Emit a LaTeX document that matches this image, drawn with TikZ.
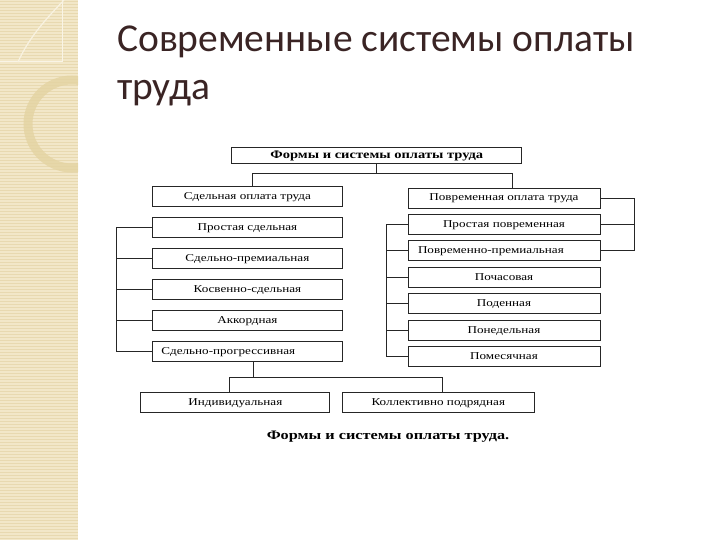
\documentclass[tikz,border=0pt]{standalone}
\usepackage{fontspec}
\setmainfont{Liberation Serif}
\newfontfamily\scanfont[FakeStretch=1.25]{Liberation Serif}
\newfontfamily\titlefont{Carlito}
\usetikzlibrary{positioning,calc}
\definecolor{sdbeige}{HTML}{F2E7C8}
\definecolor{sdstripe}{HTML}{E8D9B0}
\definecolor{sdring}{HTML}{E4D3A2}
\definecolor{ttbrown}{HTML}{3A2424}
\definecolor{lnblack}{HTML}{262626}

\begin{document}
\begin{tikzpicture}[x=1pt,y=-1pt,
 box/.style={draw=lnblack,fill=white,line width=0.9pt,minimum width=190pt,minimum height=20pt,inner sep=0pt,text height=8pt,text depth=2pt,font=\scanfont\fontsize{10.5}{12}\selectfont},
 link/.style={draw=lnblack,line width=0.9pt}]
\useasboundingbox (0,0) rectangle (720,540);
% side strip
\fill[sdbeige] (0,0) rectangle (78,540);
\foreach \y in {1.5,4.5,...,540} \draw[sdstripe,line width=0.8pt] (0,\y) -- (78,\y);
\draw[white!55!sdbeige,line width=1pt] (0,62) -- (62,62) -- (62,0);
\draw[white!45!sdbeige,line width=1.2pt] (18,62) .. controls (30,35) and (50,15) .. (64,0);
\begin{scope}
\clip (0,0) rectangle (78,540);
\draw[sdring,line width=9pt,opacity=0.8] (72,124) circle (44);
\end{scope}
% title
\node[anchor=north west,inner sep=0pt,align=left,text=ttbrown,font=\titlefont\fontsize{39.5}{48}\selectfont] (title) at (117,26) {Современные системы оплаты\\труда};
% boxes
\node[box,minimum width=290pt,minimum height=16pt,font=\scanfont\bfseries\fontsize{11.6}{12}\selectfont] (forms) at (376.8,155.2) {Формы и системы оплаты труда};
\node[box] (sdel) at (247.4,196.5) {Сдельная оплата труда};
\node[box,below=10pt of sdel] (sdel1) {Простая сдельная};
\node[box,below=10pt of sdel1] (sdel2) {Сдельно-премиальная};
\node[box,below=10pt of sdel2] (sdel3) {Косвенно-сдельная};
\node[box,below=10pt of sdel3] (sdel4) {Аккордная};
\node[box,below=10pt of sdel4,text width=172pt,align=left] (sdel5) {Сдельно-прогрессивная};
\node[box,minimum width=192pt] (povr) at (504,198) {Повременная оплата труда};
\node[box,minimum width=192pt,below=5.5pt of povr] (povr1) {Простая повременная};
\node[box,minimum width=192pt,below=5.5pt of povr1,text width=172pt,align=left] (povr2) {Повременно-премиальная};
\node[box,minimum width=192pt,below=5.5pt of povr2] (povr3) {Почасовая};
\node[box,minimum width=192pt,below=5.5pt of povr3] (povr4) {Поденная};
\node[box,minimum width=192pt,below=5.5pt of povr4] (povr5) {Понедельная};
\node[box,minimum width=192pt,below=5.5pt of povr5] (povr6) {Помесячная};
\node[box,minimum width=189pt] (ind) at (235.4,402.8) {Индивидуальная};
\node[box,minimum width=192pt,right=11.5pt of ind] (kol) {Коллективно подрядная};
\node[font=\scanfont\bfseries\fontsize{13}{14}\selectfont] (caption) at (388,437) {Формы и системы оплаты труда.};
% connectors
\draw[link] (forms.south) -- ++(0,9.5) coordinate (fork) -| ([xshift=5.5pt]sdel.north);
\draw[link] (fork) -| ([xshift=8pt]povr.north);
\draw[link] (sdel1.west) -- ++(-35.5,0) |- (sdel5.west);
\foreach \n in {sdel2,sdel3,sdel4} \draw[link] (\n.west) -- ++(-35.5,0);
\draw[link] (povr1.west) -- ++(-20.7,0) |- (povr6.west);
\foreach \n in {povr2,povr3,povr4,povr5} \draw[link] (\n.west) -- ++(-20.7,0);
\draw[link] (povr.east) -- ++(34,0) |- (povr2.east);
\draw[link] (povr1.east) -- ++(34,0);
\draw[link] ([xshift=6pt]sdel5.south) -- ++(0,16) coordinate (split);
\draw[link] ([xshift=-6.4pt]ind.north) |- (split) -| ([xshift=4pt]kol.north);
\end{tikzpicture}
\end{document}
